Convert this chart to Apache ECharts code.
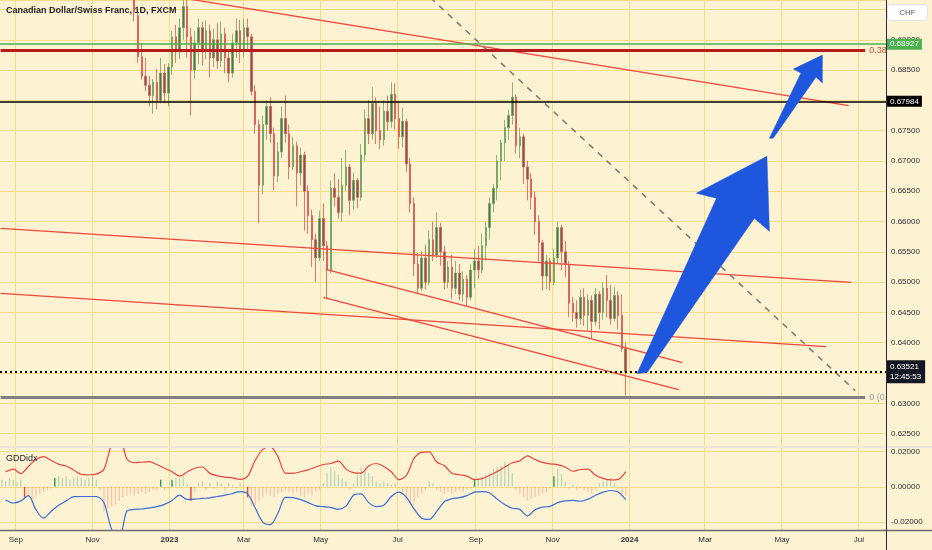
<!DOCTYPE html>
<html><head><meta charset="utf-8">
<script src="https://cdn.jsdelivr.net/npm/echarts@6/dist/echarts.min.js"></script>
<style>html,body{margin:0;padding:0;background:#fdf3d2;}#c{width:932px;height:550px;}</style>
</head><body><div id="c"></div>
<script>
// ---------- text ----------
const chartTitle = 'Canadian Dollar/Swiss Franc, 1D, FXCM';
const indicatorName = 'GDDidx';
const currencyLabel = 'CHF';
const monthNames = {'03':'Mar','05':'May','07':'Jul','09':'Sep','11':'Nov'};
const labelMonths = ['01','03','05','07','09','11'];
const axisStart = '2022-08-20';
const axisEnd = '2024-07-22';

// ---------- price levels ----------
const priceMin = 0.625, priceMax = 0.69657, priceStep = 0.005;
const lastPrice = 0.63521;
const countdown = '12:45:53';
const levelBlack = 0.67984;
const levelGreen = 0.68927;
const fib382 = 0.68831;
const fib0 = 0.63102;
const fibLabel382 = '0.38';
const fibLabel0 = '0 (0.';
const fibStart = '2022-08-20';
const fibEnd = '2024-07-06';

// ---------- candles [open, close, low, high], one every 3 days ----------
const candleStart = '2022-11-25';
const candleStepDays = 3;
const candles = [
[0.7030,0.7010,0.6995,0.7050],[0.7010,0.6995,0.6980,0.7030],[0.6995,0.6975,0.6968,0.7010],[0.6975,0.6945,0.6930,0.7000],
[0.6940,0.6872,0.6862,0.6945],[0.6872,0.6840,0.6834,0.6895],[0.6840,0.6825,0.6815,0.6870],[0.6825,0.6808,0.6790,0.6840],
[0.6808,0.6830,0.6778,0.6835],[0.6830,0.6800,0.6785,0.6852],[0.6800,0.6845,0.6795,0.6870],[0.6845,0.6812,0.6795,0.6860],
[0.6812,0.6855,0.6790,0.6862],[0.6855,0.6905,0.6842,0.6915],[0.6905,0.6880,0.6862,0.6925],[0.6880,0.6920,0.6868,0.6935],
[0.6920,0.6955,0.6900,0.6975],[0.6955,0.6905,0.6870,0.6970],[0.6905,0.6850,0.6775,0.6920],[0.6850,0.6895,0.6835,0.6915],
[0.6895,0.6920,0.6860,0.6935],[0.6920,0.6880,0.6858,0.6930],[0.6880,0.6915,0.6868,0.6932],[0.6915,0.6870,0.6838,0.6925],
[0.6870,0.6900,0.6855,0.6918],[0.6900,0.6865,0.6852,0.6928],[0.6865,0.6910,0.6855,0.6930],[0.6910,0.6870,0.6845,0.6920],
[0.6870,0.6845,0.6830,0.6885],[0.6845,0.6895,0.6838,0.6910],[0.6895,0.6915,0.6870,0.6935],[0.6915,0.6880,0.6862,0.6933],
[0.6880,0.6920,0.6872,0.6935],[0.6920,0.6905,0.6880,0.6935],[0.6905,0.6815,0.6808,0.6910],[0.6815,0.6760,0.6745,0.6825],
[0.6760,0.6660,0.6597,0.6768],[0.6660,0.6760,0.6645,0.6775],[0.6760,0.6790,0.6735,0.6800],[0.6790,0.6745,0.6730,0.6805],
[0.6745,0.6675,0.6652,0.6755],[0.6675,0.6715,0.6665,0.6730],[0.6715,0.6770,0.6705,0.6790],[0.6770,0.6745,0.6730,0.6808],
[0.6745,0.6690,0.6670,0.6760],[0.6690,0.6725,0.6685,0.6740],[0.6725,0.6680,0.6625,0.6732],[0.6680,0.6710,0.6660,0.6722],
[0.6710,0.6650,0.6585,0.6715],[0.6650,0.6610,0.6580,0.6660],[0.6610,0.6570,0.6525,0.6620],[0.6570,0.6540,0.6500,0.6580],
[0.6540,0.6605,0.6535,0.6618],[0.6605,0.6560,0.6535,0.6630],[0.6560,0.6520,0.6472,0.6568],[0.6520,0.6655,0.6515,0.6668],
[0.6655,0.6640,0.6625,0.6680],[0.6640,0.6615,0.6605,0.6670],[0.6615,0.6660,0.6600,0.6705],[0.6660,0.6690,0.6650,0.6718],
[0.6690,0.6635,0.6610,0.6695],[0.6635,0.6668,0.6620,0.6680],[0.6668,0.6640,0.6622,0.6672],[0.6640,0.6710,0.6635,0.6728],
[0.6710,0.6770,0.6700,0.6785],[0.6770,0.6745,0.6728,0.6800],[0.6745,0.6795,0.6735,0.6822],[0.6795,0.6750,0.6728,0.6805],
[0.6750,0.6735,0.6720,0.6790],[0.6735,0.6782,0.6725,0.6800],[0.6782,0.6765,0.6750,0.6808],[0.6765,0.6810,0.6755,0.6830],
[0.6810,0.6770,0.6752,0.6828],[0.6770,0.6740,0.6720,0.6798],[0.6740,0.6765,0.6722,0.6788],[0.6765,0.6695,0.6682,0.6770],
[0.6695,0.6630,0.6615,0.6705],[0.6630,0.6530,0.6510,0.6640],[0.6530,0.6490,0.6482,0.6548],[0.6490,0.6540,0.6486,0.6552],
[0.6540,0.6500,0.6488,0.6562],[0.6500,0.6570,0.6495,0.6585],[0.6570,0.6545,0.6535,0.6600],[0.6545,0.6590,0.6540,0.6615],
[0.6590,0.6550,0.6527,0.6598],[0.6550,0.6500,0.6488,0.6560],[0.6500,0.6525,0.6490,0.6535],[0.6525,0.6490,0.6472,0.6545],
[0.6490,0.6515,0.6480,0.6535],[0.6515,0.6480,0.6470,0.6530],[0.6480,0.6505,0.6468,0.6518],[0.6505,0.6475,0.6461,0.6512],
[0.6475,0.6520,0.6470,0.6530],[0.6520,0.6535,0.6490,0.6555],[0.6535,0.6520,0.6505,0.6560],[0.6520,0.6560,0.6515,0.6580],
[0.6560,0.6590,0.6535,0.6600],[0.6590,0.6630,0.6570,0.6640],[0.6630,0.6655,0.6615,0.6662],[0.6655,0.6700,0.6635,0.6710],
[0.6700,0.6730,0.6668,0.6735],[0.6730,0.6755,0.6700,0.6768],[0.6755,0.6775,0.6735,0.6785],[0.6775,0.6805,0.6760,0.6830],
[0.6805,0.6725,0.6712,0.6810],[0.6725,0.6740,0.6705,0.6755],[0.6740,0.6690,0.6662,0.6745],[0.6690,0.6670,0.6635,0.6700],
[0.6670,0.6640,0.6620,0.6680],[0.6640,0.6600,0.6578,0.6650],[0.6600,0.6565,0.6535,0.6610],[0.6565,0.6510,0.6486,0.6570],
[0.6510,0.6535,0.6488,0.6545],[0.6535,0.6500,0.6486,0.6540],[0.6500,0.6540,0.6495,0.6555],[0.6540,0.6590,0.6530,0.6600],
[0.6590,0.6550,0.6520,0.6595],[0.6550,0.6530,0.6508,0.6568],[0.6530,0.6465,0.6442,0.6535],[0.6465,0.6450,0.6435,0.6475],
[0.6450,0.6440,0.6425,0.6470],[0.6440,0.6475,0.6430,0.6488],[0.6475,0.6445,0.6428,0.6490],[0.6445,0.6470,0.6420,0.6480],
[0.6470,0.6435,0.6407,0.6478],[0.6435,0.6480,0.6428,0.6490],[0.6480,0.6450,0.6422,0.6485],[0.6450,0.6490,0.6438,0.6500],
[0.6490,0.6470,0.6442,0.6512],[0.6470,0.6440,0.6430,0.6495],[0.6440,0.6478,0.6435,0.6492],[0.6478,0.6445,0.6422,0.6485],
[0.6445,0.6390,0.6385,0.6480],[0.6390,0.6352,0.6313,0.6400]
];

// ---------- drawings [date, price] ----------
const trendLines = [
  [['2023-01-01',0.69725],['2024-06-23',0.67913]],
  [['2022-08-20',0.65888],['2024-06-25',0.64995]],
  [['2022-08-20',0.64813],['2024-06-05',0.63937]],
  [['2023-05-05',0.65210],['2024-02-12',0.63673]],
  [['2023-05-03',0.64747],['2024-02-09',0.63227]]
];
const dashedLine = [['2023-07-20',0.69830],['2024-06-28',0.63210]];
const arrowBig = [['2024-01-07',0.63491],['2024-03-10',0.66384],['2024-02-23',0.66467],['2024-04-19',0.67078],
                  ['2024-04-21',0.65838],['2024-04-09',0.66053],['2024-01-15',0.63508]];
const arrowSmall = [['2024-04-21',0.67376],['2024-05-16',0.68450],['2024-05-10',0.68517],['2024-06-02',0.68748],
                    ['2024-06-02',0.68285],['2024-05-28',0.68384],['2024-04-24',0.67376]];

// ---------- indicator ----------
const lineStart = '2022-08-24';
const lineStepDays = 6;
const upperLine = [0.0085,0.0100,0.0075,0.0115,0.0155,0.0171,0.0150,0.0128,0.0118,0.0095,
0.0070,0.0068,0.0072,0.0100,0.0240,0.0300,0.0160,0.0136,0.0139,0.0142,
0.0126,0.0105,0.0085,0.0060,0.0084,0.0105,0.0112,0.0076,0.0062,0.0055,
0.0050,0.0042,0.0060,0.0150,0.0212,0.0226,0.0171,0.0077,0.0076,0.0085,
0.0096,0.0112,0.0126,0.0132,0.0145,0.0100,0.0080,0.0077,0.0118,0.0132,
0.0115,0.0085,0.0040,0.0065,0.0160,0.0195,0.0198,0.0140,0.0120,0.0077,
0.0068,0.0060,0.0040,0.0046,0.0065,0.0086,0.0112,0.0136,0.0147,0.0175,
0.0155,0.0138,0.0130,0.0126,0.0112,0.0088,0.0098,0.0100,0.0065,0.0048,
0.0039,0.0042,0.0086];
const lowerLine = [-0.0075,-0.0092,-0.0080,-0.0050,-0.0130,-0.0178,-0.0140,-0.0105,-0.0080,-0.0056,
-0.0055,-0.0055,-0.0055,-0.0090,-0.0240,-0.0300,-0.0140,-0.0128,-0.0126,-0.0120,
-0.0113,-0.0100,-0.0078,-0.0047,-0.0072,-0.0070,-0.0066,-0.0063,-0.0055,-0.0047,
-0.0038,-0.0027,-0.0040,-0.0120,-0.0200,-0.0214,-0.0150,-0.0060,-0.0062,-0.0073,
-0.0090,-0.0108,-0.0113,-0.0118,-0.0128,-0.0110,-0.0048,-0.0040,-0.0090,-0.0112,
-0.0105,-0.0055,-0.0030,-0.0060,-0.0125,-0.0178,-0.0185,-0.0140,-0.0085,-0.0068,
-0.0062,-0.0050,-0.0030,-0.0027,-0.0035,-0.0070,-0.0100,-0.0122,-0.0128,-0.0165,
-0.0130,-0.0115,-0.0111,-0.0090,-0.0080,-0.0077,-0.0082,-0.0070,-0.0048,-0.0030,
-0.0021,-0.0030,-0.0073];
const histStart = '2022-08-21';
const histStepDays = 3;
const histValues = [0.004,0.003,0.005,0.004,0.003,0.004,
-0.006,-0.005,-0.007,-0.006,-0.004,-0.003,-0.002,-0.001,
0.005,0.006,0.005,0.006,0.004,0.005,0.006,0.005,0.004,0.005,0.006,0.004,
-0.002,-0.014,-0.012,
-0.011,-0.010,-0.008,-0.006,-0.005,-0.004,-0.005,-0.004,-0.003,-0.004,-0.003,-0.002,-0.002,
0.004,-0.002,-0.001,0.004,0.005,0.005,0.006,0.002,-0.008,-0.003,0.002,0.003,-0.002,0.002,-0.001,0.003,0.002,-0.002,0.002,0.001,-0.001,0.002,0.001,
-0.006,-0.011,-0.010,-0.008,-0.006,-0.004,-0.005,-0.006,-0.004,-0.003,-0.002,-0.003,-0.004,-0.003,-0.005,-0.006,-0.004,-0.005,-0.003,-0.002,0.002,
0.008,0.011,0.009,0.007,0.005,0.003,-0.002,0.002,0.007,0.011,0.010,0.008,0.006,0.003,0.002,0.003,0.002,0.001,0.002,-0.001,
-0.003,-0.008,-0.010,-0.009,-0.006,-0.004,-0.002,0.003,0.002,-0.002,-0.003,-0.004,-0.003,-0.004,-0.003,-0.002,-0.003,-0.002,-0.001,
0.004,0.005,0.006,0.007,0.008,0.010,0.011,0.012,0.014,0.013,0.008,
-0.002,-0.004,-0.006,-0.008,-0.007,-0.006,-0.005,-0.004,-0.003,-0.001,
0.006,0.010,0.007,0.003,-0.001,0.001,-0.002,-0.001,-0.002,-0.003,-0.004,-0.002,0.002,0.003,0.004,0.005,0.002,-0.001,-0.004,-0.005];

// ---------- build ----------
function addDays(s, n) { const d = new Date(s + 'T00:00:00Z'); d.setUTCDate(d.getUTCDate() + n); return d.toISOString().slice(0, 10); }
const days = [];
for (let s = axisStart; s <= axisEnd; s = addDays(s, 1)) days.push(s);
const dayIndex = {};
days.forEach((d, i) => { dayIndex[d] = i; });
const ix = d => dayIndex[d];
const pt = p => [ix(p[0]), p[1]];

const candleData = candles.map((c, i) => [ix(addDays(candleStart, i * candleStepDays)), c[0], c[1], c[2], c[3]]);
const upperData = upperLine.map((v, i) => [ix(addDays(lineStart, i * lineStepDays)), v]);
const lowerData = lowerLine.map((v, i) => [ix(addDays(lineStart, i * lineStepDays)), v]);
const histData = histValues.map((v, i) => [ix(addDays(histStart, i * histStepDays)), v]);

const isLabelDay = (idx, val) => val.slice(8) === '01' && labelMonths.indexOf(val.slice(5, 7)) >= 0;
const gridColor = '#f3dc8c';
const textColor = '#2a2e39';
const FONT = 'Liberation Sans, Arial, sans-serif';

const trendSeries = trendLines.map(l => ({
  type: 'line', xAxisIndex: 0, yAxisIndex: 0, data: l.map(pt), symbol: 'none', silent: true, z: 3,
  lineStyle: { color: '#f2453d', width: 1.3 }
}));

const option = {
  animation: false,
  backgroundColor: '#fdf3d2',
  textStyle: { fontFamily: FONT },
  grid: [
    { left: 0, right: 46, top: 0, bottom: 116.4 },
    { left: 0, right: 46, top: 447, bottom: 20 },
    { left: 0, right: 46, top: 0, bottom: 20 }
  ],
  xAxis: [
    { type: 'category', gridIndex: 0, data: days, axisLine: { show: false }, axisTick: { show: false }, axisLabel: { show: false }, splitLine: { show: false } },
    { type: 'category', gridIndex: 1, data: days, axisLine: { show: false }, axisTick: { show: false }, axisLabel: { show: false }, splitLine: { show: false } },
    { type: 'category', gridIndex: 2, data: days, axisLine: { show: false }, axisTick: { show: false },
      axisLabel: { interval: isLabelDay, fontSize: 8, color: textColor, margin: 6,
        formatter: v => v.slice(5, 7) === '01' ? '{b|' + v.slice(0, 4) + '}' : monthNames[v.slice(5, 7)],
        rich: { b: { fontWeight: 'bold', fontSize: 8, color: textColor } } },
      splitLine: { show: true, interval: isLabelDay, lineStyle: { color: gridColor, width: 1 } } }
  ],
  yAxis: [
    { type: 'value', gridIndex: 0, position: 'right', min: priceMin, max: priceMax, interval: priceStep,
      axisLine: { show: false }, axisTick: { show: false },
      axisLabel: { fontSize: 8, color: textColor, margin: 5, showMaxLabel: false,
        formatter: v => Math.abs(v / priceStep - Math.round(v / priceStep)) < 1e-6 ? v.toFixed(5) : '' },
      splitLine: { lineStyle: { color: gridColor, width: 1 } } },
    { type: 'value', gridIndex: 1, position: 'right', min: -0.0245, max: 0.02254, splitNumber: 2,
      axisLine: { show: false }, axisTick: { show: false },
      axisLabel: { fontSize: 8, color: textColor, margin: 5, showMinLabel: false, showMaxLabel: false,
        formatter: v => Math.abs(v / 0.02 - Math.round(v / 0.02)) < 1e-6 ? v.toFixed(5) : '' },
      splitLine: { lineStyle: { color: gridColor, width: 1 } } },
    { type: 'value', gridIndex: 2, show: false }
  ],
  series: [
    { type: 'candlestick', xAxisIndex: 0, yAxisIndex: 0, data: candleData, encode: { x: 0, y: [1, 2, 3, 4] },
      barWidth: 2, silent: true,
      itemStyle: { color: '#626a55', color0: '#6a605a', borderColor: '#67a85a', borderColor0: '#e2574f', borderWidth: 0.8 },
      markLine: {
        symbol: ['none', 'none'], silent: true, animation: false, precision: 5,
        data: [
          { yAxis: levelGreen, lineStyle: { color: '#4caf50', width: 1.5, type: 'solid' },
            label: { show: true, position: 'end', distance: 1, formatter: levelGreen.toFixed(5), color: '#fff', backgroundColor: '#4caf50', padding: [2, 3, 1, 3], fontSize: 8 } },
          { yAxis: levelBlack, lineStyle: { color: '#000', width: 1.5, type: 'solid' },
            label: { show: true, position: 'end', distance: 1, formatter: levelBlack.toFixed(5), color: '#fff', backgroundColor: '#000', padding: [2, 3, 1, 3], fontSize: 8 } },
          { yAxis: lastPrice, lineStyle: { color: '#000', width: 2, type: [2, 3] },
            label: { show: true, position: 'end', distance: 1, formatter: lastPrice.toFixed(5) + '\n' + countdown, color: '#fff', backgroundColor: '#131722', padding: [2, 4, 1, 3], fontSize: 8, lineHeight: 10 } },
          [ { coord: [ix(fibStart), fib382], lineStyle: { color: '#b71c1c', width: 3, type: 'solid' },
              label: { show: true, position: 'end', distance: 4, formatter: fibLabel382, color: '#d24a3c', fontSize: 9 } },
            { coord: [ix(fibEnd), fib382] } ],
          [ { coord: [ix(fibStart), fib0], lineStyle: { color: '#808080', width: 3, type: 'solid' },
              label: { show: true, position: 'end', distance: 4, formatter: fibLabel0, color: '#9a9a9a', fontSize: 9 } },
            { coord: [ix(fibEnd), fib0] } ]
        ]
      } },
    ...trendSeries,
    { type: 'line', xAxisIndex: 0, yAxisIndex: 0, data: dashedLine.map(pt), symbol: 'none', silent: true, z: 3,
      lineStyle: { color: '#7f7f78', width: 1.6, type: [6, 6] } },
    { type: 'custom', xAxisIndex: 0, yAxisIndex: 0, data: [0], silent: true, z: 6, clip: false,
      renderItem: (params, api) => ({
        type: 'group', children: [arrowBig, arrowSmall].map(a => ({
          type: 'polygon', shape: { points: a.map(p => api.coord(pt(p))) }, style: { fill: '#1f56de', stroke: '#1f56de', lineWidth: 0.5 }
        }))
      }) },
    { type: 'bar', xAxisIndex: 1, yAxisIndex: 1, data: histData, barWidth: 1.4, silent: true,
      itemStyle: { color: p => {
        const i = p.dataIndex, v = histValues[i], pv = i > 0 ? histValues[i - 1] : v;
        const strong = (v >= 0) !== (pv >= 0) && Math.abs(v) >= 0.004;
        if (v >= 0) return strong ? '#2e9a55' : 'rgba(70,170,150,0.35)';
        return strong ? '#e8453f' : 'rgba(239,83,80,0.28)';
      } } },
    { type: 'line', xAxisIndex: 1, yAxisIndex: 1, data: upperData, symbol: 'none', smooth: 0.3, silent: true, z: 4,
      lineStyle: { color: '#e8453f', width: 1.2 } },
    { type: 'line', xAxisIndex: 1, yAxisIndex: 1, data: lowerData, symbol: 'none', smooth: 0.3, silent: true, z: 4,
      lineStyle: { color: '#3d6cd6', width: 1.2 } }
  ],
  graphic: [
    { type: 'line', z: 50, shape: { x1: 0, y1: 447, x2: 932, y2: 447 }, style: { stroke: '#ece7da', lineWidth: 2 } },
    { type: 'line', z: 60, shape: { x1: 0, y1: 530.5, x2: 932, y2: 530.5 }, style: { stroke: '#6e6e6e', lineWidth: 1.5 } },
    { type: 'line', z: 60, shape: { x1: 886.5, y1: 0, x2: 886.5, y2: 550 }, style: { stroke: '#2a2e39', lineWidth: 1 } },
    { type: 'text', z: 100, left: 6, top: 6, style: { text: chartTitle, fontSize: 9, fontWeight: 'bold', fill: '#1e222d', fontFamily: FONT } },
    { type: 'text', z: 100, left: 6, top: 454, style: { text: indicatorName, fontSize: 9, fill: '#1e222d', fontFamily: FONT } },
    { type: 'rect', z: 100, shape: { x: 887.5, y: 4.5, width: 40, height: 16, r: 3 }, style: { fill: '#ffffff', stroke: '#e0e3eb', lineWidth: 1 } },
    { type: 'text', z: 101, x: 907.5, y: 12.5, style: { text: currencyLabel, fontSize: 8, fill: '#555a66', align: 'center', verticalAlign: 'middle', fontFamily: FONT } }
  ]
};
const chart = echarts.init(document.getElementById('c'), null, { renderer: 'canvas' });
chart.setOption(option);
</script></body></html>
